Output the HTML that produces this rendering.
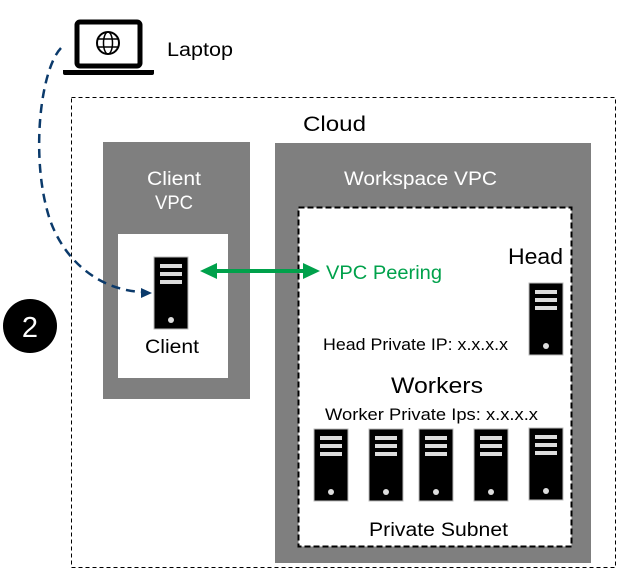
<!DOCTYPE html>
<html><head><meta charset="utf-8"><style>
html,body{margin:0;padding:0;background:#fff;}
svg{display:block;font-family:"Liberation Sans",sans-serif;}
</style></head><body>
<svg width="618" height="570" viewBox="0 0 618 570" xmlns="http://www.w3.org/2000/svg">
<defs>
<g id="srv">
<rect x="0" y="0" width="34" height="72" fill="#000" stroke="#bbb" stroke-width="1"/>
<rect x="6" y="7" width="22" height="4" fill="#ddd"/>
<rect x="6" y="15" width="22" height="4" fill="#ddd"/>
<rect x="6" y="23" width="22" height="4" fill="#ddd"/>
<circle cx="17" cy="63" r="3" fill="#ddd"/>
</g>
</defs>
<rect x="71.5" y="97.5" width="544" height="470" fill="none" stroke="#000" stroke-width="1" stroke-dasharray="4,3"/>
<text x="303" y="131" font-size="21" textLength="63" lengthAdjust="spacingAndGlyphs">Cloud</text>
<rect x="103" y="142" width="147" height="257" fill="#7f7f7f"/>
<text x="147" y="185" font-size="19" fill="#fff" textLength="54" lengthAdjust="spacingAndGlyphs">Client</text>
<text x="155" y="209" font-size="19" fill="#fff" textLength="38" lengthAdjust="spacingAndGlyphs">VPC</text>
<rect x="118" y="234" width="110" height="144" fill="#fff"/>
<use href="#srv" x="154" y="257"/>
<text x="145" y="353" font-size="19" textLength="54" lengthAdjust="spacingAndGlyphs">Client</text>
<rect x="275" y="143" width="316" height="420" fill="#7f7f7f"/>
<text x="344" y="185" font-size="19" fill="#fff" textLength="153" lengthAdjust="spacingAndGlyphs">Workspace VPC</text>
<rect x="298.5" y="207.5" width="273" height="339" fill="#fff" stroke="#000" stroke-width="2" stroke-dasharray="6,3"/>
<line x1="214" y1="271" x2="306" y2="271" stroke="#00a14b" stroke-width="4"/>
<polygon points="200,271 217,263 217,279" fill="#00a14b"/>
<polygon points="320,271 303,263 303,279" fill="#00a14b"/>
<text x="326" y="279" font-size="19" fill="#00a14b" textLength="116" lengthAdjust="spacingAndGlyphs">VPC Peering</text>
<text x="508" y="264" font-size="22" textLength="55" lengthAdjust="spacingAndGlyphs">Head</text>
<use href="#srv" x="529" y="283"/>
<text x="323" y="350" font-size="17" textLength="185" lengthAdjust="spacingAndGlyphs">Head Private IP: x.x.x.x</text>
<text x="391" y="393" font-size="22" textLength="92" lengthAdjust="spacingAndGlyphs">Workers</text>
<text x="325" y="420" font-size="17" textLength="213" lengthAdjust="spacingAndGlyphs">Worker Private Ips: x.x.x.x</text>
<use href="#srv" x="314" y="429"/>
<use href="#srv" x="369" y="429"/>
<use href="#srv" x="419" y="429"/>
<use href="#srv" x="474" y="429"/>
<use href="#srv" x="529" y="428"/>
<text x="369" y="536" font-size="19" textLength="139" lengthAdjust="spacingAndGlyphs">Private Subnet</text>
<!-- laptop -->
<rect x="77" y="22" width="63" height="44" rx="3" fill="#fff" stroke="#000" stroke-width="5"/>
<path d="M63,70 H154 V73 Q154,75 152,75 H65 Q63,75 63,73 Z" fill="#000"/>
<circle cx="108" cy="43" r="11" fill="none" stroke="#000" stroke-width="2"/>
<ellipse cx="108" cy="43" rx="4.5" ry="11" fill="none" stroke="#000" stroke-width="1.5"/>
<line x1="97" y1="39" x2="119" y2="39" stroke="#000" stroke-width="1.5"/>
<line x1="97" y1="47" x2="119" y2="47" stroke="#000" stroke-width="1.5"/>
<text x="167" y="56" font-size="19" textLength="66" lengthAdjust="spacingAndGlyphs">Laptop</text>
<path d="M61,48 C40,70 30,160 50,220 C65,262 100,290 142,292" fill="none" stroke="#0b3a6b" stroke-width="2.5" stroke-dasharray="9,6"/>
<polygon points="152,293 141,288 141,298" fill="#0b3a6b"/>
<circle cx="30" cy="326" r="27" fill="#000"/>
<text x="30" y="337" font-size="29" fill="#fff" text-anchor="middle">2</text>
</svg>
</body></html>
